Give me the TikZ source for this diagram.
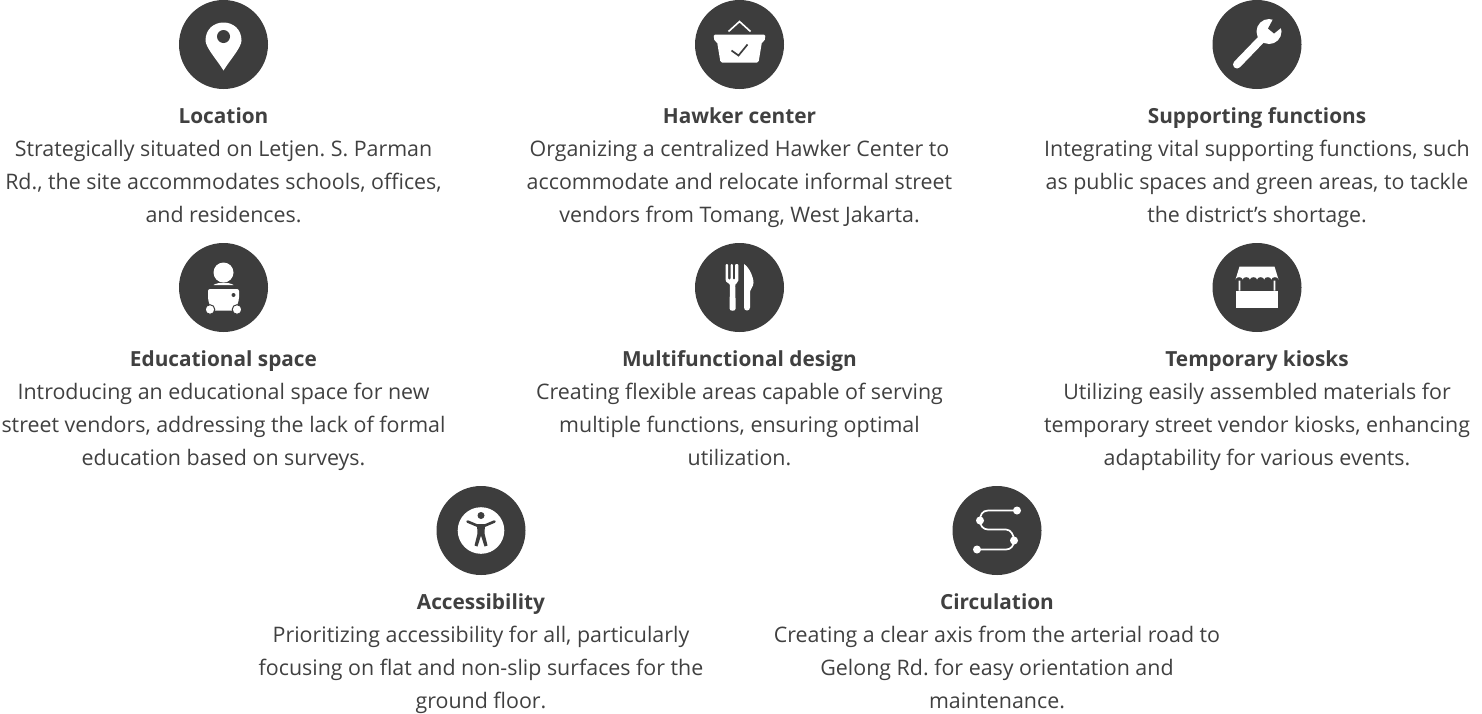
\documentclass[tikz,border=0pt]{standalone}
\usepackage{fontspec}
\setmainfont{Open Sans}
\usetikzlibrary{positioning}
\definecolor{badgegray}{HTML}{3D3D3D}
\definecolor{textgray}{HTML}{404040}
\frenchspacing
\tikzset{
  badge/.style = {circle, fill=badgegray, minimum size=89pt, inner sep=0pt},
  headline/.style = {font=\fontsize{20.8}{33}\selectfont\bfseries, text=textgray, inner sep=0pt, text height=15pt, text depth=0pt},
  blurb/.style = {font=\fontsize{21.4}{33}\selectfont\frenchspacing, text=textgray, align=center, inner sep=0pt,
    execute at begin node=\strut, execute at end node=\strut}
}
\begin{document}
\begin{tikzpicture}[x=1pt, y=-1pt, node distance = 71pt, on grid]
  \useasboundingbox (0,0) rectangle (1482,713);
  % top row
  \node[badge] (location) at (223.5,44.5) {};
  \node[badge] (hawker) at (739.5,44.5) {};
  \node[badge] (supporting) at (1257,44.5) {};
  % middle row
  \node[badge] [below=243pt of location] (educational) {};
  \node[badge] [below=243pt of hawker] (multi) {};
  \node[badge] [below=243pt of supporting] (kiosk) {};
  % bottom row
  \node[badge] (access) at (481,530.5) {};
  \node[badge] (circulation) at (997,530.5) {};

  % titles
  \node[headline] [below=of location] (locationT) {Location};
  \node[headline] [below=of hawker] (hawkerT) {Hawker center};
  \node[headline] [below=of supporting] (supportingT) {Supporting functions};
  \node[headline] [below=of educational] (educationalT) {Educational space};
  \node[headline] [below=of multi] (multiT) {Multifunctional design};
  \node[headline] [below=of kiosk] (kioskT) {Temporary kiosks};
  \node[headline] [below=of access] (accessT) {Accessibility};
  \node[headline] [below=of circulation] (circulationT) {Circulation};

  % descriptions
  \node[blurb] [below=of locationT] (locationB) {Strategically situated on Letjen. S. Parman\\Rd., the site accommodates schools, offices,\\and residences.};
  \node[blurb] [below=of hawkerT] (hawkerB) {Organizing a centralized Hawker Center to\\accommodate and relocate informal street\\vendors from Tomang, West Jakarta.};
  \node[blurb] [below=of supportingT] (supportingB) {Integrating vital supporting functions, such\\as public spaces and green areas, to tackle\\the district’s shortage.};
  \node[blurb] [below=of educationalT] (educationalB) {Introducing an educational space for new\\street vendors, addressing the lack of formal\\education based on surveys.};
  \node[blurb] [below=of multiT] (multiB) {Creating flexible areas capable of serving\\multiple functions, ensuring optimal\\utilization.};
  \node[blurb] [below=of kioskT] (kioskB) {Utilizing easily assembled materials for\\temporary street vendor kiosks, enhancing\\adaptability for various events.};
  \node[blurb] [below=of accessT] (accessB) {Prioritizing accessibility for all, particularly\\focusing on flat and non-slip surfaces for the\\ground floor.};
  \node[blurb] [below=of circulationT] (circulationB) {Creating a clear axis from the arterial road to\\Gelong Rd. for easy orientation and\\maintenance.};

  % pin
  \begin{scope}[shift={(location.center)}]
    \fill[white] (0,26) .. controls (-6,16) and (-18,3) .. (-18,-4) .. controls (-18,-15) and (-10,-22) .. (0,-22)
      .. controls (10,-22) and (18,-15) .. (18,-4) .. controls (18,3) and (6,16) .. (0,26) -- cycle;
    \fill[badgegray] (0,-8) circle (6.5);
  \end{scope}
  % basket
  \begin{scope}[shift={(hawker.center)}]
    \draw[white, line width=1.6pt] (-11,-13) -- (0,-23) -- (11,-13);
    \fill[white, rounded corners=1.5pt] (-26,-10) -- (26,-10) -- (25,-3) -- (22.5,-3) -- (19,18) -- (-19,18) -- (-22.5,-3) -- (-25,-3) -- cycle;
    \draw[badgegray, line width=1.7pt] (-8,6) -- (-1,11) -- (8,0);
  \end{scope}
  % wrench
  \begin{scope}[shift={(supporting.center)}]
    \draw[white, line width=8pt, line cap=round] (-20,20) -- (8,-9);
    \fill[white] (12,-13) circle (12.5);
    \fill[badgegray] (11,-16) -- (17,-11) -- (27,-19) -- (18,-29) -- cycle;
  \end{scope}
  % student
  \begin{scope}[shift={(educational.center)}]
    \fill[white] (0,-15) circle (10);
    \fill[white] (-10,-2.5) .. controls (-6,-5.5) and (6,-5.5) .. (10,-2.5) -- cycle;
    \fill[white, rounded corners=2pt] (-15.5,1.5) -- (15.5,1.5) -- (15.5,12) -- (12,23) -- (-12,23) -- (-15.5,12) -- cycle;
    \fill[badgegray] (10,7.5) circle (2);
    \fill[white, draw=badgegray, line width=1pt] (-13.5,22) circle (4.8) (13.5,22) circle (4.8);
  \end{scope}
  % cutlery
  \begin{scope}[shift={(multi.center)}]
    \fill[white, rounded corners=1pt] (-14,-23.5) -- (-11.3,-23.5) -- (-11.3,-8) -- (-9,-8) -- (-9,-23.5) -- (-6.7,-23.5) -- (-6.7,-8)
      -- (-4.5,-8) -- (-4.5,-23.5) -- (-1.2,-23.5) -- (-1.2,-8) .. controls (-1.2,-5) and (-4,-4) .. (-4.3,-2)
      -- (-3.8,20) .. controls (-3.8,24) and (-10,24) .. (-10,20) -- (-9.5,-2) .. controls (-10,-4) and (-14,-5) .. (-14,-9) -- cycle;
    \fill[white] (4.5,-23.5) .. controls (10,-20) and (14,-10) .. (14,-5) .. controls (14,-1) and (11,1) .. (10.5,4)
      -- (10.5,20) .. controls (10.5,24) and (4.5,24) .. (4.5,20) -- cycle;
  \end{scope}
  % stall
  \begin{scope}[shift={(kiosk.center)}]
    \fill[white] (-17.5,-21) -- (17.5,-21) -- (21.5,-8) foreach \s in {0,...,5} {arc[start angle=0, end angle=180, x radius=3.58, y radius=-2.4]} -- cycle;
    \fill[white] (-18.4,-7) rectangle (-16.6,3) (16.6,-7) rectangle (18.4,3);
    \fill[white] (-20.7,3.5) rectangle (20.7,20);
  \end{scope}
  % accessibility
  \begin{scope}[shift={(access.center)}]
    \fill[white] (0,0) circle (23.3);
    \fill[badgegray] (0,-15) circle (3.5);
    \draw[badgegray, line width=2.6pt, line cap=round] (-13.5,-9) -- (-4,-5) -- (4,-5) -- (13.5,-9);
    \fill[badgegray] (-4,-6) -- (4,-6) -- (3.5,3) -- (6.5,15) -- (3.5,16) -- (0,5) -- (-3.5,16) -- (-6.5,15) -- (-3.5,3) -- cycle;
  \end{scope}
  % route
  \begin{scope}[shift={(circulation.center)}]
    \draw[white, line width=1.7pt] (20,-20) -- (-9,-20) .. controls (-15,-20) and (-17,-15) .. (-17,-10)
      .. controls (-17,-5) and (-14,-1) .. (-9,-1) -- (9,-1) .. controls (14,-1) and (17,5) .. (17,10)
      .. controls (17,15) and (14,19) .. (9,19) -- (-20,19);
    \foreach \dotx/\doty in {20/-20, -17/-10, 17/10, -20/19}
      \fill[white] (\dotx,\doty) circle (4);
  \end{scope}
\end{tikzpicture}
\end{document}
